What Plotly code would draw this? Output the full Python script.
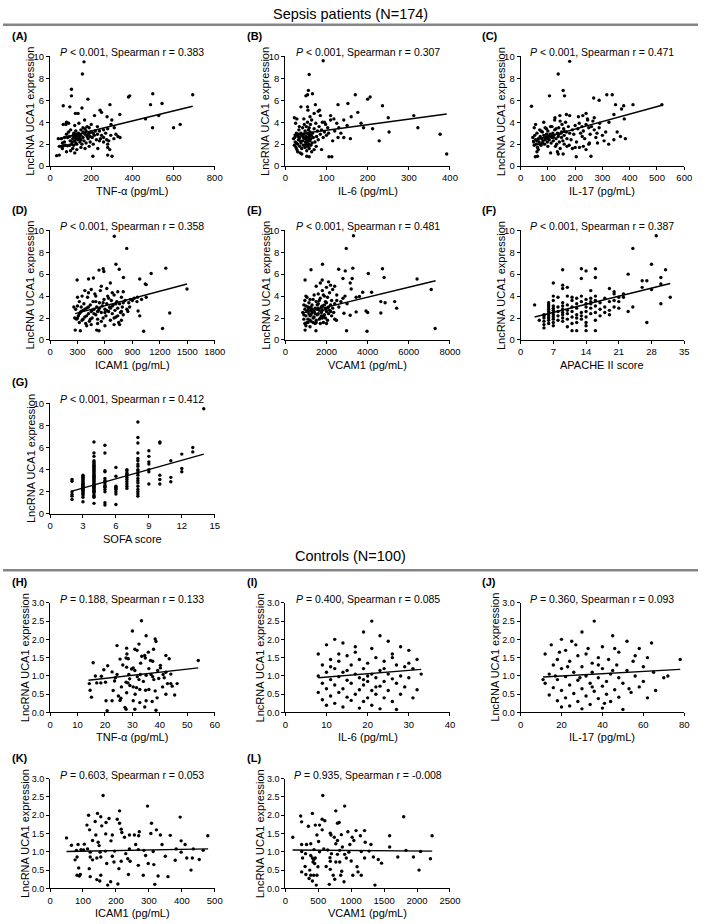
import plotly.graph_objects as go

W, H = 709, 924
FONT = "Arial, 'Liberation Sans', Helvetica, sans-serif"

# ---------------- DATA ----------------
# Sepsis patients: (cytokine value, LncRNA UCA1 expression)
tnf_sepsis = [(165,9.5),(157,8.4),(104,7.0),(104,6.4),(184,6.1),(64,5.5),(96,5.4),(155,5.3),(291,5.6),(243,5.1),
    (381,6.3),(387,6.4),(499,6.6),(693,6.5),(488,5.6),(544,5.7),(498,3.5),(600,3.5),(632,3.8),(464,4.3),
    (528,4.6),(339,4.7),(277,4.5),(216,4.6),(123,4.8),(136,4.8),(168,4.2),(80,4.0),(77,3.8),(64,3.8),
    (90,3.9),(250,4.9),(300,4.2),(296,3.8),(312,3.5),(330,2.7),(340,2.6),(320,2.9),(280,3.4),(260,3.3),
    (232,1.6),(280,1.7),(280,2.0),(290,1.5),(208,0.9),(280,1.0),(301,0.9),(32,0.95),(45,1.0),
    (45,1.8),(55,1.8),(65,1.85),(75,1.9),(85,1.85),(95,1.9),(105,2.0),(115,1.9),(125,2.1),(40,2.5),
    (55,2.5),(70,2.6),(85,2.6),(95,2.7),(110,2.5),(120,2.6),(130,2.7),(140,2.5),(150,2.8),(160,2.6),
    (170,2.9),(180,2.7),(190,3.0),(200,3.1),(210,3.0),(220,3.2),(115,3.0),(125,3.2),(135,2.4),(145,2.2),
    (155,2.0),(165,2.3),(175,2.1),(185,2.5),(195,2.2),(205,2.6),(120,2.3),(130,2.0),(140,2.9),(150,3.3),
    (160,3.5),(170,3.4),(180,3.6),(100,3.3),(90,3.1),(80,2.9),(70,2.2),(60,2.1),(110,1.6),(130,1.5),
    (150,1.7),(170,1.6),(190,1.8),(210,2.0),(225,2.4),(240,2.3),(250,2.8),(260,2.6),(270,3.0),(240,3.2),
    (230,3.6),(200,3.8),(190,3.5),(120,3.7),(140,3.9),(100,1.4),(120,1.2),(80,1.3),(60,1.6),(135,2.6),
    (128,2.5),(132,2.8),(138,3.0),(142,2.7),(125,2.9),(118,2.7),(145,2.5),(150,2.4),(112,2.8),(108,2.2),
    (98,2.3),(160,3.1),(175,3.2),(185,2.9),(195,2.7),(215,2.8),(230,2.9),(245,2.5),(260,2.2),(275,2.4),
    (285,2.3),(295,2.8),(310,2.5)]
tnf_sepsis_fit = [(35,2.45),(693,5.45)]

il6_sepsis = [(92,9.6),(58,8.35),(56,6.9),(66,6.6),(50,6.4),(54,6.5),(38,5.4),(54,5.4),(55,5.1),(73,5.6),
    (83,5.1),(70,4.8),(128,5.6),(152,5.7),(170,6.5),(200,6.1),(206,6.3),(236,5.5),(160,4.5),(176,4.9),
    (110,4.6),(118,4.3),(142,4.2),(250,4.4),(312,4.6),(184,3.9),(212,3.4),(190,3.5),(130,3.5),(322,3.5),
    (252,3.1),(376,2.9),(158,2.5),(142,2.6),(128,2.6),(228,2.3),(392,1.1),(106,0.85),(113,0.85),(52,0.9),
    (58,0.85),(88,1.5),
    (20,2.5),(22,1.9),(24,2.2),(25,2.8),(27,3.0),(28,1.5),(30,1.3),(30,2.0),(32,2.4),(33,3.3),
    (35,1.8),(35,2.6),(36,1.2),(38,3.0),(38,2.1),(40,2.8),(40,1.6),(42,3.5),(42,2.3),(44,1.9),
    (45,2.9),(46,3.8),(47,2.5),(48,1.7),(48,3.2),(50,2.0),(50,2.7),(51,3.6),(52,1.4),(52,2.4),
    (53,3.0),(54,2.2),(54,4.0),(55,2.6),(55,1.8),(56,3.3),(57,2.9),(57,2.0),(58,3.5),(58,1.6),
    (59,2.7),(60,2.3),(60,3.1),(61,3.8),(62,2.5),(62,1.9),(63,2.8),(64,4.2),(65,2.1),(66,3.0),
    (68,2.6),(70,3.4),(72,2.2),(74,3.9),(76,2.7),(78,3.2),(80,2.4),(82,3.6),(85,2.9),(88,3.3),
    (90,4.0),(92,2.6),(95,3.1),(98,3.8),(100,2.8),(103,3.5),(105,3.0),(25,3.9),(28,4.3),(22,4.4),
    (34,3.6),(45,4.3),(60,4.5),(64,1.3),(70,1.5),(75,1.8),(40,1.1),(33,2.9),(50,2.5),(56,2.4),
    (58,2.9),(53,1.9),(49,2.2),(44,2.6),(36,2.3),(31,2.7),(27,2.1),(23,2.6),(26,1.7),(120,3.2),
    (135,3.0),(150,3.7),(115,2.3),(125,3.9),(95,4.0),(110,4.2),(85,4.6),(80,5.0)]
il6_sepsis_fit = [(20,2.85),(392,4.75)]

il17_sepsis = [(180,9.55),(138,8.4),(156,6.9),(161,6.4),(106,6.4),(40,5.45),(268,6.2),(288,6.0),(316,6.5),(336,6.5),
    (348,5.6),(378,5.5),(412,5.6),(370,5.2),(228,4.6),(240,4.8),(246,4.2),(270,4.4),(212,4.5),(180,4.6),
    (168,4.7),(144,4.6),(126,4.4),(342,4.7),(324,4.0),(380,4.3),(290,3.9),(288,3.5),(312,3.1),(354,3.1),
    (366,2.7),(384,2.5),(342,2.4),(306,2.3),(323,2.0),(282,2.1),(252,2.1),(276,2.6),(226,2.7),(216,1.7),
    (240,1.5),(258,0.9),(204,0.85),(156,1.1),(138,1.1),(54,0.85),(62,0.9),(518,5.6),
    (45,2.6),(48,2.2),(50,1.9),(52,2.8),(55,2.4),(58,2.0),(60,3.0),(62,1.7),(65,2.5),(68,2.2),
    (70,3.3),(72,2.7),(75,1.9),(78,2.5),(80,3.1),(82,2.3),(85,2.8),(88,2.0),(90,3.5),(92,2.6),
    (95,2.9),(98,2.2),(100,3.2),(102,2.7),(105,2.4),(108,2.9),(110,3.6),(112,2.1),(115,2.6),(118,3.0),
    (120,2.3),(122,2.8),(125,3.3),(128,1.8),(130,2.5),(132,2.0),(135,3.0),(138,2.7),(140,3.5),(142,2.2),
    (145,1.6),(148,3.0),(150,2.6),(152,3.8),(155,2.3),(158,3.4),(160,2.8),(165,4.0),(168,3.1),(170,2.5),
    (175,3.6),(178,1.9),(180,3.0),(185,2.4),(190,3.3),(195,2.9),(200,3.7),(205,2.2),(210,3.4),(215,3.9),
    (220,3.0),(225,3.6),(230,3.2),(235,2.5),(240,3.8),(245,4.3),(250,3.5),(255,2.9),(260,3.6),(265,4.1),
    (270,3.3),(50,3.5),(55,3.8),(60,1.3),(65,1.5),(85,4.0),(95,3.4),(110,1.2),(125,4.2),(100,1.8),
    (75,3.2),(115,3.6),(130,3.4),(145,4.1),(135,1.3),(160,2.0),(170,1.8),(190,1.6),(200,1.7),(230,1.8),
    (250,2.0),(280,3.0),(300,2.8),(60,2.3),(70,2.0),(80,2.1),(90,2.4),(100,2.5),(110,2.7),(120,2.6),
    (140,2.9),(150,3.1),(160,3.2)]
il17_sepsis_fit = [(42,2.3),(518,5.55)]

icam_sepsis = [(702,9.46),(838,8.35),(720,6.9),(756,6.45),(535,6.37),(581,6.5),(588,6.25),(296,5.47),(421,5.56),(474,5.65),
    (802,5.7),(659,5.2),(980,5.56),(1041,5.1),(1051,5.05),(1105,6.06),(1265,6.55),(1497,4.65),(955,3.9),(1051,3.9),
    (962,2.64),(980,2.2),(1308,2.46),(1230,1.05),(1023,0.8),(275,0.9),(331,0.84),(510,0.9),(535,0.84),
    (280,2.8),(290,1.9),(300,3.1),(310,2.2),(320,1.6),(330,2.5),(340,3.0),(350,1.8),(360,2.7),(370,3.3),
    (380,2.1),(390,1.5),(400,2.9),(410,3.9),(420,2.4),(430,1.7),(440,3.2),(450,2.6),(460,2.0),(470,3.5),
    (480,2.8),(490,4.2),(500,2.3),(510,3.0),(520,1.9),(530,2.7),(540,3.4),(550,4.5),(560,2.5),(570,3.1),
    (580,2.0),(590,3.7),(600,2.8),(610,2.2),(620,3.3),(630,4.0),(640,2.6),(650,3.0),(660,1.8),(670,3.6),
    (680,2.4),(690,3.2),(700,4.1),(710,2.7),(720,2.1),(730,3.5),(740,2.9),(750,1.6),(760,3.3),(770,2.5),
    (780,3.9),(790,3.0),(800,2.3),(820,3.6),(840,2.8),(860,3.4),(880,3.7),(900,3.6),(920,3.8),(300,2.0),
    (320,2.4),(340,2.6),(360,1.9),(380,2.8),(400,2.2),(420,3.0),(440,1.9),(460,2.7),(480,2.4),(500,3.5),
    (520,2.6),(540,2.9),(560,1.7),(580,3.4),(600,2.5),(620,2.7),(640,3.8),(660,2.9),(680,3.1),(700,2.0),
    (720,3.3),(740,2.2),(760,1.4),(780,2.6),(800,3.4),(350,4.0),(380,4.5),(420,4.3),(450,4.6),(500,4.0),
    (560,4.9),(620,4.7),(680,4.3),(740,4.4),(800,4.4),(400,1.3),(450,1.4),(520,1.5),(600,1.3),(700,1.4),
    (780,1.8),(850,2.6),(870,3.0),(950,3.5),(1000,3.7),(320,3.5),(300,3.9),(260,3.0),(270,2.0)]
icam_sepsis_fit = [(275,2.4),(1497,5.1)]

vcam_sepsis = [(3312,9.5),(2960,8.35),(1808,6.9),(1248,6.4),(2592,6.45),(2912,6.3),(3280,6.55),(4720,6.5),(4800,5.7),(4032,6.06),
    (960,5.47),(1792,5.47),(2800,5.6),(3248,5.6),(6400,5.56),(7088,4.6),(7280,1.05),(3152,5.2),(3200,4.65),(3760,4.35),
    (4192,4.35),(3600,3.96),(3440,3.9),(4640,3.5),(4848,3.4),(5312,3.5),(5408,2.9),(4640,2.46),(3920,2.64),(4000,2.5),
    (3440,2.56),(3152,2.25),(2848,2.44),(2976,0.84),(3968,0.8),(960,0.9),(1488,0.84),(2480,1.8),(2400,1.9),
    (850,2.5),(900,1.9),(950,2.8),(1000,2.2),(1050,1.6),(1100,3.0),(1150,2.4),(1200,1.8),(1250,2.7),(1300,3.2),
    (1350,2.0),(1400,2.6),(1450,1.5),(1500,3.5),(1550,2.3),(1600,2.9),(1650,1.9),(1700,3.8),(1750,2.5),(1800,3.1),
    (1850,2.2),(1900,4.0),(1950,2.8),(2000,3.4),(2050,1.8),(2100,3.0),(2150,4.3),(2200,2.6),(2250,3.6),(2300,2.9),
    (2400,3.3),(2500,4.1),(2600,3.0),(900,2.3),(950,1.5),(1000,3.1),(1050,2.6),(1100,1.9),(1150,3.4),(1200,2.2),
    (1250,1.7),(1300,2.5),(1350,3.7),(1400,2.1),(1450,2.9),(1500,1.8),(1550,3.2),(1600,2.4),(1650,3.6),(1700,2.0),
    (1750,3.0),(1800,2.7),(1850,4.1),(1900,2.3),(1950,3.5),(2000,2.6),(2050,3.9),(2100,2.4),(2200,3.2),(2300,4.6),
    (1000,1.3),(1100,1.6),(1200,1.2),(1350,1.6),(1500,1.6),(1700,1.5),(1850,1.6),(2000,1.5),(1000,4.0),(1200,3.7),
    (1400,4.1),(1600,4.2),(1800,4.5),(2000,4.8),(2200,5.0),(2400,4.9),(1500,4.9),(1700,5.2),(2100,5.3),(900,3.2),
    (950,3.6),(1050,3.9),(1150,2.9),(1250,3.0),(1450,2.4),(1650,2.7),(1750,2.2),(1950,2.0),(2150,2.7),(2350,2.5),
    (2500,3.6),(2700,3.5),(2800,3.8),(2900,4.0),(3000,3.3),(1100,2.7),(1300,2.8),(1600,3.3),(1800,2.0),(1900,3.2),
    (2050,2.9),(2250,2.2),(1250,2.3),(1550,2.8),(1350,2.6)]
vcam_sepsis_fit = [(800,2.45),(7300,5.4)]

# APACHE II score (integer) -> expression values in that column
apache_columns = {
    3: [3.2], 4: [1.8], 5: [1.1,1.4,1.7,2.0,2.2,2.3],
    6: [1.5,1.8,2.0,2.2,2.4,2.6,2.8,3.0,3.2,3.4],
    7: [1.3,1.6,1.9,2.1,2.3,2.5,2.7,2.9,3.1,3.6,4.0,5.2],
    8: [1.8,2.2,2.6,3.0,3.9],
    9: [1.7,2.0,2.3,2.5,2.8,3.1,3.4,4.7,5.0,6.4],
    10: [1.2,1.9,2.4,2.7,3.2,4.0,4.8],
    11: [1.5,2.1,2.6,3.0,3.6,3.9,0.85],
    12: [1.6,2.0,2.3,2.9,3.3,3.8,0.85],
    13: [1.9,2.2,2.5,3.5,4.0,5.6,6.5],
    14: [1.3,1.6,2.1,2.6,3.0,3.3,3.7,6.3,0.85],
    15: [2.4,2.9,3.3,3.5,4.5,3.8],
    16: [1.8,2.5,3.1,3.6,4.0,5.7,6.5,0.85],
    17: [2.2,2.8,3.4],
    18: [2.5,3.0,3.8],
    19: [2.3,2.7,3.5,4.7],
    20: [3.0,3.6,4.2,4.4],
    21: [2.9,3.5,3.9],
    22: [3.9,4.2],
    23: [2.6,6.0],
    24: [3.0,8.35],
    26: [4.8,5.4],
    27: [1.6,5.4],
    28: [4.6,6.9],
    29: [9.5],
    30: [3.3,5.1,5.7],
    31: [6.4],
    32: [3.9],
}
apache_fit = [(3,2.1),(32,5.15)]

# SOFA score (integer) -> expression values in that column
sofa_columns = {
    2: [3.1,2.95,2.0,1.6,1.3,1.75],
    3: [1.1,1.5,1.7,1.9,2.0,2.1,2.2,2.3,2.4,2.5,2.6,2.7,2.8,2.9,3.0,3.1,3.2,3.3,3.4,3.5,1.8,2.15,2.45,2.65],
    4: [0.95,1.5,1.7,1.9,2.0,2.1,2.2,2.3,2.4,2.5,2.6,2.7,2.8,2.9,3.0,3.1,3.2,3.3,3.4,3.5,3.6,3.7,3.8,3.9,
        4.0,4.1,4.2,4.3,4.4,4.5,4.6,4.7,4.8,5.2,5.5,6.5,1.6,2.05,2.55],
    5: [0.8,1.0,2.0,2.2,2.4,2.6,2.8,3.0,3.2,3.8,3.9,5.5,6.2,2.5,2.9],
    6: [0.85,1.8,2.0,2.2,2.4,2.5,3.4,4.2,2.3],
    7: [2.3,2.5,2.7,2.9,3.1,3.3,3.5,3.7,3.9,4.0,3.6],
    8: [1.6,1.8,2.0,2.2,2.5,2.8,3.0,3.2,3.5,3.7,4.0,4.3,4.5,4.8,5.0,5.5,6.4,6.9,8.3,3.9],
    9: [2.7,3.8,4.0,4.5,4.7,5.2,5.7],
    10: [2.7,3.1,3.5,6.4,6.5],
    11: [2.9,3.3,4.8],
    12: [3.8,4.1,5.4],
    13: [5.6,6.0],
    14: [9.5],
}
sofa_fit = [(2,2.05),(14,5.4)]

# Controls
tnf_ctrl = [(33.3,2.51),(30,2.23),(35,2.10),(38.3,2.01),(38.6,1.94),(32.4,1.87),(30.9,1.73),(27.9,1.76),(24.4,1.83),(31.7,1.70),
    (37.7,1.73),(33.4,1.54),(34.5,1.56),(27.7,1.49),(28.5,1.47),(25.5,1.46),(15.7,1.36),(34.7,1.49),(36.6,1.42),(37.4,1.40),
    (42.2,1.56),(43.4,1.47),(54,1.42),(27.9,1.24),(29.7,1.19),(30.3,1.22),(19.6,1.17),(30.9,1.15),(40.2,1.29),(40.2,1.22),
    (39.2,1.15),(42.2,1.10),(41.2,1.04),(36.8,1.04),(37.4,0.98),(35,1.02),(24.4,1.04),(18.7,0.99),(18.5,0.81),(14.3,0.79),
    (17,0.81),(28.7,1.04),(32.9,1.04),(31.8,0.98),(32.4,0.90),(37.8,0.90),(39.6,0.93),(41.6,0.95),(20.2,0.83),(23.5,0.86),
    (27.7,0.83),(28.4,0.81),(29.1,0.74),(30.3,0.70),(31.5,0.68),(32.7,0.63),(34.8,0.61),(36,0.63),(38.3,0.59),(27.9,0.54),
    (24.9,0.45),(25.8,0.39),(15.1,0.42),(14.6,0.61),(20.4,0.32),(22.6,0.32),(25.5,0.33),(30.3,0.32),(32.7,0.27),(35,0.32),
    (37.2,0.30),(34.5,0.15),(27.3,0.14),(27.7,0.09),(38.6,0.06),(20.8,0.05),(30.9,0.09),(42.8,0.79),(44,0.79),(44.5,0.72),
    (46.3,0.79),(45.4,0.48),(42.2,0.50),(23.8,0.95),(22.6,1.11),(26.5,1.30),(33,1.35),(36,1.20),(29,0.92),(34,0.85),
    (26,0.70),(31,0.50),(23,0.60),(39,0.40),(21,1.28),(28,1.60),(35.8,1.65),(41,0.70),(16.5,1.00),(44,1.05)]
tnf_ctrl_fit = [(14,0.88),(54,1.22)]

il6_ctrl = [(21,2.5),(19,2.2),(12,2.0),(23,2.1),(14,1.9),(25,1.95),(10,1.85),(17,1.8),(28,1.8),(21,1.75),
    (30,1.7),(8,1.6),(15,1.55),(22,1.5),(26,1.5),(11,1.45),(18,1.45),(32,1.45),(13,1.4),(24,1.4),
    (20,1.35),(9,1.3),(16,1.3),(27,1.3),(29,1.25),(12,1.2),(19,1.2),(23,1.15),(31,1.2),(10,1.1),
    (14,1.1),(17,1.05),(21,1.05),(25,1.05),(28,1.0),(33,1.05),(8,1.0),(13,0.98),(18,0.95),(22,0.95),
    (26,0.92),(30,0.95),(11,0.9),(15,0.88),(20,0.85),(24,0.85),(9,0.8),(16,0.8),(27,0.8),(12,0.75),
    (19,0.75),(23,0.72),(29,0.7),(10,0.65),(14,0.65),(18,0.62),(21,0.6),(25,0.6),(32,0.62),(8,0.55),
    (13,0.55),(17,0.5),(22,0.5),(28,0.5),(11,0.45),(15,0.42),(20,0.4),(24,0.4),(31,0.4),(9,0.35),
    (16,0.33),(19,0.3),(26,0.3),(12,0.25),(21,0.2),(14,0.15),(18,0.12),(23,0.1),(27,0.08),(10,0.2),
    (30,1.35),(13,1.6),(17,1.65),(20,1.0),(15,1.15),(11,1.25),(24,1.2),(19,0.9),(22,0.7),(26,1.6)]
il6_ctrl_fit = [(8,0.95),(33,1.18)]

il17_ctrl = [(36,2.5),(30,2.2),(20,2.0),(45,2.1),(25,1.95),(52,1.95),(15,1.85),(40,1.8),(58,1.75),(33,1.75),
    (22,1.7),(48,1.65),(12,1.6),(28,1.55),(38,1.5),(62,1.5),(18,1.45),(43,1.45),(55,1.4),(78,1.45),
    (24,1.4),(35,1.35),(47,1.3),(16,1.3),(30,1.25),(60,1.25),(20,1.2),(40,1.2),(52,1.15),(26,1.1),
    (35,1.1),(65,1.1),(14,1.05),(44,1.05),(32,1.0),(56,1.0),(22,0.98),(38,0.95),(48,0.95),(70,0.95),
    (18,0.9),(28,0.88),(42,0.85),(60,0.85),(12,0.8),(34,0.8),(50,0.8),(24,0.75),(40,0.72),(58,0.7),
    (16,0.68),(30,0.65),(46,0.62),(20,0.6),(36,0.58),(54,0.55),(26,0.52),(42,0.5),(14,0.48),(32,0.45),
    (48,0.42),(22,0.4),(38,0.38),(62,0.4),(18,0.32),(28,0.3),(44,0.3),(34,0.22),(24,0.18),(40,0.12),
    (30,0.1),(50,0.08),(20,0.15),(66,0.6),(72,1.0),(46,1.75),(27,1.85),(32,1.6),(56,1.55),(23,1.25),
    (38,1.3),(17,1.0),(45,1.15),(53,0.65),(29,0.95),(35,0.7),(41,0.25),(19,1.65),(64,1.9),(11,0.9)]
il17_ctrl_fit = [(11,0.97),(78,1.18)]

icam_ctrl = [(50,1.38),(161,2.54),(296,2.25),(211,2.12),(117,2.0),(144,2.05),(395,1.95),(179,1.91),(204,1.89),(112,1.73),
    (154,1.96),(137,1.83),(170,1.8),(157,1.71),(211,1.78),(216,1.62),(218,1.53),(271,1.55),(269,1.44),(306,1.5),
    (308,1.78),(323,1.6),(335,1.46),(398,1.3),(479,1.44),(241,1.46),(256,1.46),(189,1.46),(169,1.49),(139,1.46),
    (129,1.31),(149,1.17),(146,1.26),(104,1.21),(94,1.06),(114,1.08),(65,1.18),(85,1.2),(80,1.04),(102,1.05),
    (122,0.99),(152,0.99),(168,1.02),(196,1.02),(241,1.08),(268,1.06),(285,1.04),(313,1.01),(383,1.08),(398,0.99),
    (435,1.08),(465,1.04),(82,0.86),(76,0.78),(122,0.86),(129,0.78),(142,0.83),(154,0.86),(189,0.88),(194,0.72),
    (172,0.68),(216,0.74),(236,0.81),(243,0.74),(268,0.63),(298,0.68),(315,0.65),(350,0.88),(380,0.77),(432,0.83),
    (453,0.79),(415,0.83),(87,0.56),(119,0.54),(209,0.54),(92,0.38),(82,0.36),(89,0.34),(122,0.32),(154,0.36),
    (238,0.38),(283,0.36),(328,0.34),(358,0.32),(428,0.5),(142,0.24),(151,0.2),(184,0.18),(206,0.12),(175,0.09),
    (318,0.11),(226,1.4),(260,1.2),(340,1.2),(120,1.6),(185,1.3),(290,0.9),(230,0.95),(365,1.45),(410,1.2)]
icam_ctrl_fit = [(50,1.01),(480,1.08)]

vcam_ctrl = [(569,2.54),(901,2.25),(767,2.12),(233,1.98),(411,2.05),(559,1.89),(792,1.78),(817,1.8),(1797,1.96),(455,1.73),
    (520,1.73),(248,1.82),(683,1.51),(693,1.46),(851,1.47),(1074,1.58),(1203,1.58),(1139,1.44),(1015,1.4),(1040,1.31),
    (1213,1.26),(1584,1.44),(2228,1.44),(480,1.46),(743,1.4),(792,1.31),(767,1.22),(505,1.28),(248,1.2),(322,1.2),
    (386,1.22),(114,1.4),(980,1.2),(866,1.13),(826,1.04),(644,1.05),(584,1.08),(436,1.06),(248,1.01),(965,0.99),
    (1272,1.02),(1584,1.13),(1832,1.04),(2054,1.01),(1153,1.01),(307,0.95),(386,0.9),(411,0.83),(431,0.79),(455,0.83),
    (262,0.83),(792,0.93),(678,0.84),(901,0.93),(926,0.83),(1203,0.83),(1337,0.86),(1411,0.79),(1461,0.69),(2203,0.81),
    (1945,0.86),(1708,0.86),(2030,0.5),(1089,0.59),(826,0.72),(683,0.74),(767,0.72),(421,0.72),(445,0.68),(495,0.59),
    (683,0.52),(856,0.47),(727,0.36),(841,0.36),(1025,0.36),(1104,0.45),(1153,0.36),(248,0.45),(312,0.38),(371,0.5),
    (386,0.36),(431,0.36),(480,0.36),(361,0.27),(411,0.2),(470,0.09),(668,0.11),(891,0.18),(1361,0.09),(560,1.6),
    (600,1.85),(950,1.55),(350,1.7),(1300,1.2),(700,0.95),(520,1.0),(1000,0.75),(620,0.6),(300,0.6),(750,0.25)]
vcam_ctrl_fit = [(110,1.05),(2230,1.02)]

# -------- helpers to expand integer-score columns --------
def expand(columns):
    pts = []
    for score, vals in columns.items():
        for v in vals:
            pts.append((score, v))
    return pts

apache_sepsis = expand(apache_columns)
sofa_sepsis = expand(sofa_columns)

# ---------------- PANEL DEFINITIONS ----------------
panels = [
    # letter, points, fit, x title, x max, x dtick, y max, y dtick, annotation, row, col
    ("(A)", tnf_sepsis, tnf_sepsis_fit, "TNF-α (pg/mL)", 800, 200, 10, 2, "<i>P</i> &lt; 0.001, Spearman r = 0.383", 0, 0),
    ("(B)", il6_sepsis, il6_sepsis_fit, "IL-6 (pg/mL)", 400, 100, 10, 2, "<i>P</i> &lt; 0.001, Spearman r = 0.307", 0, 1),
    ("(C)", il17_sepsis, il17_sepsis_fit, "IL-17 (pg/mL)", 600, 100, 10, 2, "<i>P</i> &lt; 0.001, Spearman r = 0.471", 0, 2),
    ("(D)", icam_sepsis, icam_sepsis_fit, "ICAM1 (pg/mL)", 1800, 300, 10, 2, "<i>P</i> &lt; 0.001, Spearman r = 0.358", 1, 0),
    ("(E)", vcam_sepsis, vcam_sepsis_fit, "VCAM1 (pg/mL)", 8000, 2000, 10, 2, "<i>P</i> &lt; 0.001, Spearman r = 0.481", 1, 1),
    ("(F)", apache_sepsis, apache_fit, "APACHE II score", 35, 7, 10, 2, "<i>P</i> &lt; 0.001, Spearman r = 0.387", 1, 2),
    ("(G)", sofa_sepsis, sofa_fit, "SOFA score", 15, 3, 10, 2, "<i>P</i> &lt; 0.001, Spearman r = 0.412", 2, 0),
    ("(H)", tnf_ctrl, tnf_ctrl_fit, "TNF-α (pg/mL)", 60, 10, 3, 0.5, "<i>P</i> = 0.188, Spearman r = 0.133", 3, 0),
    ("(I)", il6_ctrl, il6_ctrl_fit, "IL-6 (pg/mL)", 40, 10, 3, 0.5, "<i>P</i> = 0.400, Spearman r = 0.085", 3, 1),
    ("(J)", il17_ctrl, il17_ctrl_fit, "IL-17 (pg/mL)", 80, 20, 3, 0.5, "<i>P</i> = 0.360, Spearman r = 0.093", 3, 2),
    ("(K)", icam_ctrl, icam_ctrl_fit, "ICAM1 (pg/mL)", 500, 100, 3, 0.5, "<i>P</i> = 0.603, Spearman r = 0.053", 4, 0),
    ("(L)", vcam_ctrl, vcam_ctrl_fit, "VCAM1 (pg/mL)", 2500, 500, 3, 0.5, "<i>P</i> = 0.935, Spearman r = -0.008", 4, 1),
]

# ---------------- LAYOUT GEOMETRY (pixels) ----------------
COLS = [(48, 216), (288, 456), (528, 695)]
ROWS = [(51, 162), (227, 338), (402, 514), (604, 715), (782, 893)]

def px(x):
    return x / W

def py(y):
    return 1 - y / H

fig = go.Figure()
layout = dict(
    width=W, height=H, margin=dict(l=0, r=0, t=0, b=0),
    paper_bgcolor="white", plot_bgcolor="white", showlegend=False,
    font=dict(family=FONT, color="black", size=10),
)
annotations = []
shapes = []

for i, (letter, pts, fit, xtitle, xmax, xdt, ymax, ydt, note, r, c) in enumerate(panels, start=1):
    xs = [p[0] for p in pts]
    ys = [p[1] for p in pts]
    fx = [p[0] for p in fit]
    fy = [p[1] for p in fit]
    xa = "x" if i == 1 else f"x{i}"
    ya = "y" if i == 1 else f"y{i}"
    fig.add_trace(go.Scatter(x=xs, y=ys, mode="markers", xaxis=xa, yaxis=ya,
                             marker=dict(color="black", size=3.4), cliponaxis=False, hoverinfo="skip"))
    fig.add_trace(go.Scatter(x=fx, y=fy, mode="lines", xaxis=xa, yaxis=ya,
                             line=dict(color="black", width=1.4), hoverinfo="skip"))
    l, rr = COLS[c]
    t, b = ROWS[r]
    ctrl = ymax == 3
    axcommon = dict(showline=True, linecolor="black", linewidth=1, ticks="outside", ticklen=3,
                    tickwidth=1, tickcolor="black", showgrid=False, zeroline=False, fixedrange=True)
    layout["xaxis" if i == 1 else f"xaxis{i}"] = dict(
        domain=[px(l), px(rr)], range=[0, xmax], dtick=xdt, tick0=0, anchor=ya,
        tickfont=dict(family=FONT, size=9.5, color="black"), **axcommon)
    layout["yaxis" if i == 1 else f"yaxis{i}"] = dict(
        domain=[py(b), py(t)], range=[0, ymax], dtick=ydt, tick0=0,
        tickformat=".1f" if ctrl else "d", anchor=xa,
        tickfont=dict(family=FONT, size=9 if ctrl else 9.5, color="black"), **axcommon)
    # panel letter
    annotations.append(dict(text=f"<b>{letter}</b>", x=px(l - 41), y=py(t - 21), xref="paper", yref="paper",
                            xanchor="left", yanchor="middle", showarrow=False,
                            font=dict(family=FONT, size=11, color="black")))
    # statistics
    annotations.append(dict(text=note, x=px((l + rr) / 2), y=py(t - 4), xref="paper", yref="paper",
                            xanchor="center", yanchor="middle", showarrow=False,
                            font=dict(family=FONT, size=10.5, color="black")))
    # x title
    annotations.append(dict(text=xtitle, x=px((l + rr) / 2), y=py(b + 25), xref="paper", yref="paper",
                            xanchor="center", yanchor="middle", showarrow=False,
                            font=dict(family=FONT, size=11, color="black")))
    # y title (further left when tick labels are wider, e.g. "3.0")
    yoff = 26 if ctrl else 20
    annotations.append(dict(text="LncRNA UCA1 expression", x=px(l - yoff), y=py((t + b) / 2),
                            xref="paper", yref="paper", xanchor="center", yanchor="middle",
                            textangle=-90, showarrow=False,
                            font=dict(family=FONT, size=11, color="black")))

# group headers
for title, ty, ly in [("Sepsis patients (N=174)", 8, 19), ("Controls (N=100)", 557, 571)]:
    annotations.append(dict(text=title, x=0.5, y=py(ty), xref="paper", yref="paper",
                            xanchor="center", yanchor="middle", showarrow=False,
                            font=dict(family=FONT, size=14.5, color="black")))
    shapes.append(dict(type="line", xref="paper", yref="paper", x0=0, x1=1, y0=py(ly), y1=py(ly),
                       line=dict(color="#858585", width=2.5)))

layout["annotations"] = annotations
layout["shapes"] = shapes
fig.update_layout(**layout)

fig.write_html("out.html", config={"displayModeBar": False},
               post_script="document.body.style.margin='0';")
